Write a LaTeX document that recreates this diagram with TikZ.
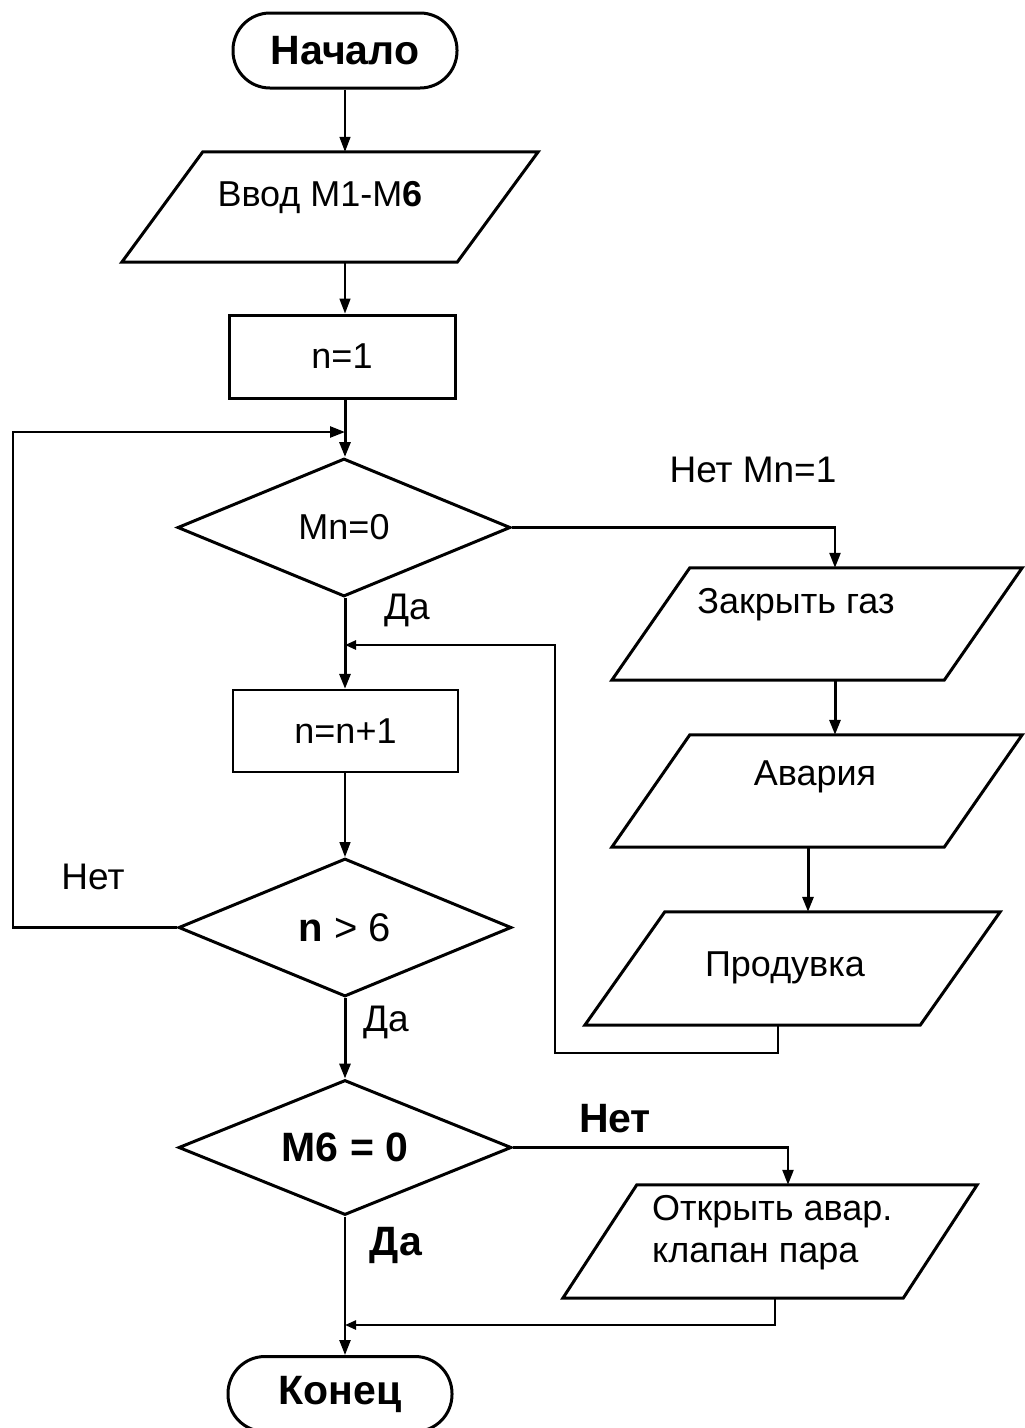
\documentclass[tikz,border=0pt]{standalone}
\usepackage{fontspec}
\setmainfont{Liberation Sans}
\usetikzlibrary{shapes.geometric,arrows.meta,calc}

% outline of a data (input/output) block around an undrawn rectangular node
\newcommand\ioframe[2]{%
  \draw[line width=3pt, line join=miter]
    ($(#1.north west)+(#2,0)$) -- (#1.north east)
    -- ($(#1.south east)-(#2,0)$) -- (#1.south west) -- cycle;}

\begin{document}
\begin{tikzpicture}[x=1pt,y=-1pt,
  every node/.style={font=\fontsize{36}{42}\selectfont, inner sep=0pt},
  term/.style={draw, line width=3pt, rounded corners=37pt, minimum width=224pt,
    minimum height=75pt, font=\fontsize{41}{46}\selectfont\bfseries},
  procbox/.style={draw, line width=3pt, minimum width=226pt, minimum height=83pt},
  decision/.style={draw, diamond, aspect=2.4, line width=3pt, minimum width=333pt, minimum height=138pt},
  iobox/.style={rectangle, minimum height=112pt},
  lbl/.style={font=\fontsize{37}{42}\selectfont},
  blbl/.style={font=\fontsize{41}{46}\selectfont\bfseries},
  arr/.style={-{Triangle[length=15pt,width=11pt]}},
  sarr/.style={-{Triangle[length=11pt,width=9pt]}},
  thick1/.style={line width=3pt},
  mid1/.style={line width=2.4pt},
  thin1/.style={line width=1.5pt}]

\useasboundingbox (0,0) rectangle (1025,1428);

% column and turn points
\coordinate (spine) at (345,0);
\coordinate (colA) at (835,0);
\coordinate (colB) at (808,0);
\coordinate (colC) at (778,0);
\coordinate (colD) at (788,0);
\coordinate (colE) at (775,0);
\coordinate (loopL) at (13,432);
\coordinate (r1) at (555,1053);
\coordinate (r2) at (555,645);
\coordinate (mergeY) at (0,1325);

% main column
\node[term] (start) at (345,50.5) {Начало};
\node[iobox, minimum width=416pt, minimum height=110pt] (vvod) at (330,207) {};
\ioframe{vvod}{81}
\node (vvodT) at (320,198) {Ввод M1-M\textbf{6}};
\node[procbox] (n1) at (342,356.5) {n=1};
\node[decision] (mn0) at (344,527.5) {Mn=0};
\node[procbox, line width=2.4pt, minimum width=225pt, minimum height=82pt] (nn1) at (345.5,731) {n=n+1};
\node[decision] (ngt6) at (345,927.5) {\fontsize{40}{44}\selectfont\textbf{n} > 6};
\node[decision, minimum height=135pt] (m60) at (345,1147.5) {\fontsize{41}{46}\selectfont\textbf{M6 = 0}};
\node[term] (konec) at (340,1394) {Конец};

% right column
\node[iobox, minimum width=410pt] (zg) at (817,624) {};
\ioframe{zg}{78}
\node (zgT) at (796,605) {Закрыть газ};
\node[iobox, minimum width=410pt] (av) at (817,791) {};
\ioframe{av}{78}
\node (avT) at (815,777) {Авария};
\node[iobox, minimum width=415pt, minimum height=113pt] (prod) at (792.5,968.5) {};
\ioframe{prod}{80}
\node (prodT) at (785,968) {Продувка};
\node[iobox, minimum width=414pt, minimum height=113pt] (otkr) at (770,1241.5) {};
\ioframe{otkr}{74}
\node[align=left, anchor=west] (otkrT) at (652,1233) {Открыть авар.\\клапан пара};

% branch labels
\node[lbl] (lNetMn) at (753,470) {Нет Mn=1};
\node[lbl] (lDa1) at (407,610) {Да};
\node[lbl] (lNet1) at (93,877) {Нет};
\node[lbl] (lDa2) at (386,1022) {Да};
\node[blbl] (lNet2) at (615,1119) {Нет};
\node[blbl] (lDa3) at (396,1245) {Да};

% connectors on the main column
\draw[thin1,arr] (spine |- start.south) -- (spine |- vvod.north);
\draw[thin1,arr] (spine |- vvod.south) -- (spine |- n1.north);
\draw[thick1,arr] (spine |- n1.south) -- (spine |- mn0.north);
\draw[thick1,arr] (spine |- mn0.south) -- (spine |- nn1.north);
\draw[thin1,arr] (spine |- nn1.south) -- (spine |- ngt6.north);
\draw[thick1,arr] (spine |- ngt6.south) -- (spine |- m60.north);
\draw[mid1,arr] (spine |- m60.south) -- (spine |- konec.north);

% loop back for n <= 6
\draw[mid1,arr] (ngt6.west) -| (loopL) -- (spine |- loopL);

% Mn = 1 branch
\draw[mid1,arr] (mn0.east) -| (colA |- zg.north);
\draw[thick1,arr] (colA |- zg.south) -- (colA |- av.north);
\draw[thick1,arr] (colB |- av.south) -- (colB |- prod.north);
\draw[mid1,sarr] (colC |- prod.south) |- (r1) -- (r2) -- (spine |- r2);

% M6 = 1 branch
\draw[mid1,arr] (m60.east) -| (colD |- otkr.north);
\draw[mid1,sarr] (colE |- otkr.south) |- (spine |- mergeY);

\end{tikzpicture}
\end{document}
